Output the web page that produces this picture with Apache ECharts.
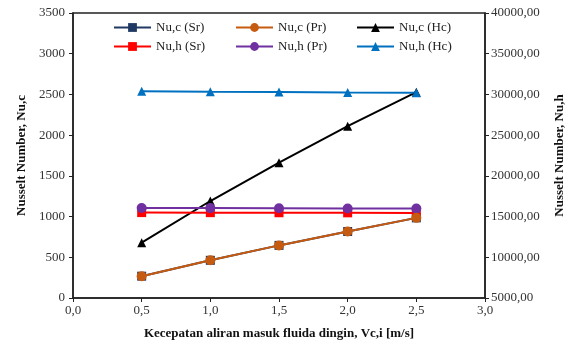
<!DOCTYPE html>
<html>
<head>
<meta charset="utf-8">
<script src="https://cdn.jsdelivr.net/npm/echarts@6/dist/echarts.min.js"></script>
<style>html,body{margin:0;padding:0;background:#fff}#chart{width:574px;height:345px}</style>
</head>
<body>
<div id="chart"></div>
<script>
// data
const velocity = [0.5, 1.0, 1.5, 2.0, 2.5];
const nucSr = [268, 463, 646, 817, 984];
const nucPr = [268, 463, 646, 817, 984];
const nucHc = [679, 1191, 1662, 2110, 2528];
const nuhSr = [15490, 15480, 15470, 15460, 15450];
const nuhPr = [16060, 16040, 16020, 16000, 15980];
const nuhHc = [30400, 30330, 30290, 30240, 30200];

const font = 'Liberation Serif';
const pairs = (ys) => velocity.map((x, i) => [x, ys[i]]);

const seriesDefs = [
  { name: 'Nu,c (Sr)', data: nucSr, color: '#1f3864', symbol: 'rect', axis: 0, size: 9 },
  { name: 'Nu,c (Pr)', data: nucPr, color: '#c55a11', symbol: 'circle', axis: 0, size: 10 },
  { name: 'Nu,c (Hc)', data: nucHc, color: '#000000', symbol: 'triangle', axis: 0, size: 9 },
  { name: 'Nu,h (Sr)', data: nuhSr, color: '#ff0000', symbol: 'rect', axis: 1, size: 9 },
  { name: 'Nu,h (Pr)', data: nuhPr, color: '#7030a0', symbol: 'circle', axis: 1, size: 10 },
  { name: 'Nu,h (Hc)', data: nuhHc, color: '#0070c0', symbol: 'triangle', axis: 1, size: 9 }
];

// legend positions (one per item, 3 columns x 2 rows)
const legendLeft = [108, 230, 351];
const legendTop = [16, 35];

const chart = echarts.init(document.getElementById('chart'));
chart.setOption({
  animation: false,
  textStyle: { fontFamily: font },
  grid: { left: 73, right: 87, top: 13, bottom: 45, show: true, borderColor: '#222', borderWidth: 1.5 },
  legend: seriesDefs.map((s, i) => ({
    data: [s.name],
    left: legendLeft[i % 3],
    top: legendTop[Math.floor(i / 3)],
    itemWidth: 37,
    itemHeight: 11,
    itemGap: 4,
    textStyle: { fontFamily: font, fontSize: 13, color: '#222' }
  })),
  xAxis: {
    type: 'value', min: 0, max: 3, interval: 0.5,
    name: 'Kecepatan aliran masuk fluida dingin, Vc,i [m/s]',
    nameLocation: 'middle', nameGap: 29,
    nameTextStyle: { fontFamily: font, fontWeight: 'bold', fontSize: 13, color: '#111' },
    axisLine: { lineStyle: { color: '#222', width: 1.5 } },
    axisTick: { show: true, length: 4, lineStyle: { color: '#222' } },
    axisLabel: { fontFamily: font, fontSize: 13, color: '#333', margin: 6, formatter: v => v.toFixed(1).replace('.', ',') },
    splitLine: { show: false }
  },
  yAxis: [
    {
      type: 'value', min: 0, max: 3500, interval: 500,
      name: 'Nusselt Number, Nu,c', nameLocation: 'middle', nameGap: 44,
      nameTextStyle: { fontFamily: font, fontWeight: 'bold', fontSize: 13, color: '#111' },
      axisLine: { show: true, lineStyle: { color: '#222', width: 1.5 } },
      axisTick: { show: true, length: 4, lineStyle: { color: '#222' } },
      axisLabel: { fontFamily: font, fontSize: 13, color: '#333', margin: 8, formatter: v => String(v) },
      splitLine: { show: false }
    },
    {
      type: 'value', min: 5000, max: 40000, interval: 5000,
      name: 'Nusselt Number, Nu,h', nameLocation: 'middle', nameGap: 68,
      nameTextStyle: { fontFamily: font, fontWeight: 'bold', fontSize: 13, color: '#111' },
      axisLine: { show: true, lineStyle: { color: '#222', width: 1.5 } },
      axisTick: { show: true, length: 4, lineStyle: { color: '#222' } },
      axisLabel: { fontFamily: font, fontSize: 13, color: '#333', margin: 6, formatter: v => v.toFixed(2).replace('.', ',') },
      splitLine: { show: false }
    }
  ],
  series: seriesDefs.map(s => ({
    name: s.name,
    type: 'line',
    yAxisIndex: s.axis,
    data: pairs(s.data),
    symbol: s.symbol,
    symbolSize: s.size,
    color: s.color,
    lineStyle: { color: s.color, width: 2 },
    itemStyle: { color: s.color },
    z: s.name === 'Nu,c (Pr)' ? 3 : 2
  }))
});
</script>
</body>
</html>
